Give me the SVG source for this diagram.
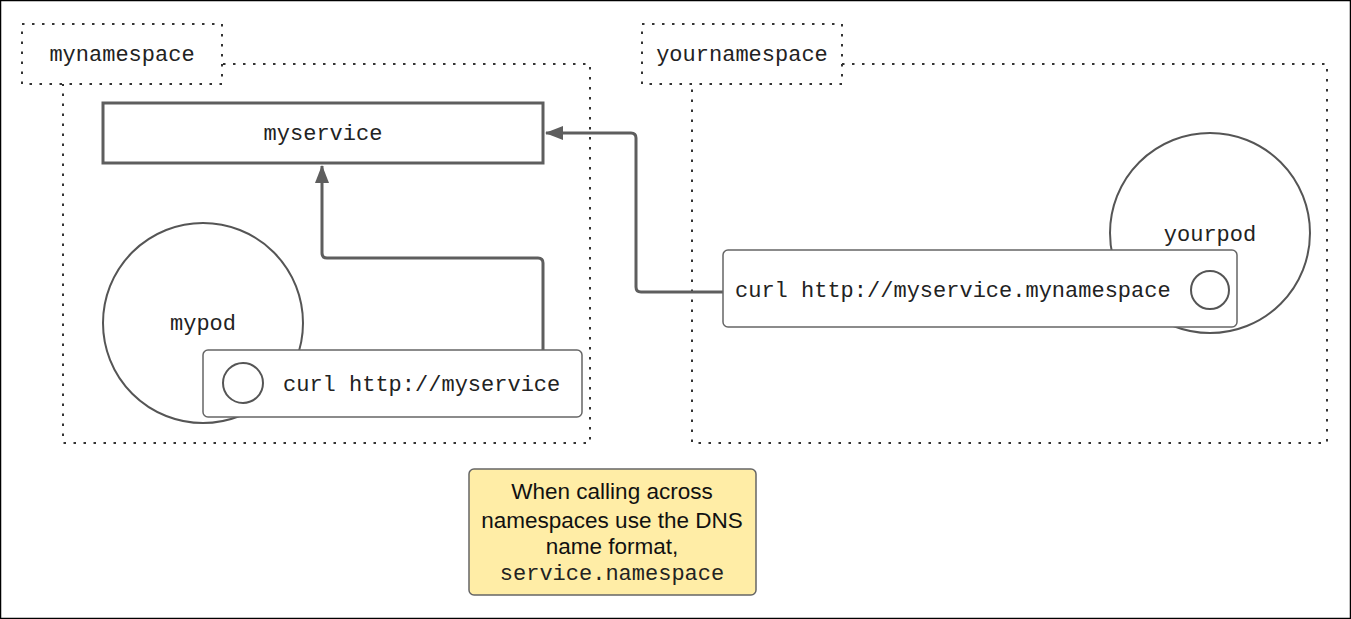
<svg xmlns="http://www.w3.org/2000/svg" width="1351" height="619" viewBox="0 0 1351 619">
  <defs>
    <style>
      .ns { fill: none; stroke: #333333; stroke-width: 2; stroke-dasharray: 2.5 7.5; }
      .lbl { fill: #ffffff; stroke: #333333; stroke-width: 2; stroke-dasharray: 2.5 7.5; }
      .mono { font-family: "Liberation Mono", "Courier New", monospace; font-size: 22px; fill: #222222; }
      .sans { font-family: "Liberation Sans", Arial, sans-serif; font-size: 22.5px; fill: #111111; }
      .pod { fill: #ffffff; stroke: #555555; stroke-width: 2; }
      .box { fill: #ffffff; stroke: #666666; stroke-width: 1.5; }
      .conn { fill: none; stroke: #5e5e5e; stroke-width: 3; stroke-linejoin: round; }
    </style>
    <marker id="arrow" viewBox="0 0 18 14" refX="17" refY="7" markerWidth="18" markerHeight="14" markerUnits="userSpaceOnUse" orient="auto">
      <path d="M0,0 L18,7 L0,14 Z" fill="#5e5e5e"/>
    </marker>
  </defs>
  <rect x="0.5" y="0.5" width="1350" height="618" fill="#ffffff" stroke="#000000" stroke-width="1.5"/>

  <g id="mynamespace">
    <rect class="ns" x="63" y="64" width="527" height="379"/>
    <rect class="lbl" x="22" y="24" width="200" height="60"/>
    <text class="mono" x="122" y="61" text-anchor="middle">mynamespace</text>
  </g>

  <g id="yournamespace">
    <rect class="ns" x="692" y="64" width="635" height="379"/>
    <rect class="lbl" x="642" y="24" width="200" height="60"/>
    <text class="mono" x="742" y="61" text-anchor="middle">yournamespace</text>
  </g>

  <g id="connectors">
    <path class="conn" d="M543,350 L543,263 Q543,258 538,258 L327,258 Q322,258 322,253 L322,166" marker-end="url(#arrow)"/>
    <path class="conn" d="M723,292 L641,292 Q636,292 636,287 L636,138 Q636,133 631,133 L546,133" marker-end="url(#arrow)"/>
  </g>

  <g id="myservice">
    <rect x="103" y="103" width="440" height="60" fill="#ffffff" stroke="#5e5e5e" stroke-width="3"/>
    <text class="mono" x="323" y="140" text-anchor="middle">myservice</text>
  </g>

  <g id="mypod">
    <circle class="pod" cx="203" cy="323" r="100"/>
    <text class="mono" x="203" y="330" text-anchor="middle">mypod</text>
  </g>

  <g id="mycurl">
    <rect class="box" x="203" y="350" width="379" height="67" rx="5"/>
    <circle class="pod" cx="243" cy="383" r="20"/>
    <text class="mono" x="283" y="391">curl http://myservice</text>
  </g>

  <g id="yourpod">
    <circle class="pod" cx="1210" cy="233" r="100"/>
    <text class="mono" x="1210" y="241" text-anchor="middle">yourpod</text>
  </g>

  <g id="yourcurl">
    <rect class="box" x="723" y="250" width="514" height="77" rx="5"/>
    <circle class="pod" cx="1210" cy="290" r="19"/>
    <text class="mono" x="735" y="297">curl http://myservice.mynamespace</text>
  </g>

  <g id="note">
    <rect x="469" y="469" width="287" height="126" rx="5" fill="#ffeda6" stroke="#666666" stroke-width="1.5"/>
    <text class="sans" x="612" y="499" text-anchor="middle">When calling across</text>
    <text class="sans" x="612" y="528" text-anchor="middle">namespaces use the DNS</text>
    <text class="sans" x="612" y="554" text-anchor="middle">name format,</text>
    <text class="mono" x="612" y="580" text-anchor="middle" fill="#111111">service.namespace</text>
  </g>
</svg>
